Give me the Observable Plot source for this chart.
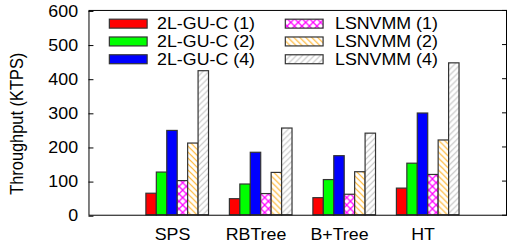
<!DOCTYPE html>
<html><head><meta charset="utf-8">
<script src="https://cdn.jsdelivr.net/npm/d3@7"></script>
<script src="https://cdn.jsdelivr.net/npm/@observablehq/plot@0.6"></script>
<style>
html,body{margin:0;padding:0;background:#fff;overflow:hidden}
#wrap{width:507px;height:244px;overflow:hidden;position:relative}
</style></head><body>
<svg width="0" height="0" style="position:absolute">
<defs>
<pattern id="pPink" patternUnits="userSpaceOnUse" width="7.5" height="7.5">
 <rect width="7.5" height="7.5" fill="#fff"/>
 <path d="M0,0L7.5,7.5M0,7.5L7.5,0" stroke="#ff00ff" stroke-width="1.3"/>
</pattern>
<pattern id="pOrange" patternUnits="userSpaceOnUse" width="6" height="6">
 <rect width="6" height="6" fill="#fff"/>
 <path d="M0,0L6,6M-1,5L1,7M5,-1L7,1" stroke="#ffb52e" stroke-width="1.2"/>
</pattern>
<pattern id="pGray" patternUnits="userSpaceOnUse" width="6" height="6">
 <rect width="6" height="6" fill="#fff"/>
 <path d="M0,6L6,0M-1,1L1,-1M5,7L7,5" stroke="#c4c4c4" stroke-width="1.2"/>
</pattern>
</defs></svg>
<div id="wrap"></div>
<script>
const categories = ["SPS", "RBTree", "B+Tree", "HT"];
const seriesNames = ["2L-GU-C (1)", "2L-GU-C (2)", "2L-GU-C (4)", "LSNVMM (1)", "LSNVMM (2)", "LSNVMM (4)"];
const gu1 = [63, 47, 50, 78];
const gu2 = [125, 90, 103, 151];
const gu4 = [247, 183, 173, 298];
const ls1 = [100, 62, 60, 118];
const ls2 = [210, 124, 126, 219];
const ls4 = [422, 254, 239, 445];
const yTicks = [0, 100, 200, 300, 400, 500, 600];
const yLabel = "Throughput (KTPS)";

const seriesValues = [gu1, gu2, gu4, ls1, ls2, ls4];
const seriesFills = ["#ff0000", "#00ff00", "#0000ff", "url(#pPink)", "url(#pOrange)", "url(#pGray)"];
const w = 0.125;
const rows = categories.flatMap((c, i) => seriesNames.map((s, j) => ({cat: i, s: j, v: seriesValues[j][i]})));

const chart = Plot.plot({
  width: 510, height: 244,
  marginLeft: 89, marginRight: 1, marginTop: 10, marginBottom: 28,
  style: {fontFamily: "'Liberation Sans', Arial, sans-serif", fontSize: "16px", color: "#000", background: "#fff", overflow: "visible"},
  x: {domain: [-1, 4], axis: null},
  y: {domain: [0, 600], axis: null},
  color: {type: "identity"},
  marks: [
    Plot.rect(rows, {x1: d => d.cat + (d.s - 2.5) * w, x2: d => d.cat + (d.s - 1.5) * w, y1: 0, y2: "v",
      fill: d => seriesFills[d.s], stroke: "#333", strokeWidth: 1.2}),
    Plot.axisX(categories.map((c, i) => i), {tickSize: 0, tickPadding: 14, tickFormat: i => categories[i], label: null, fontSize: 16}),
    Plot.axisY(yTicks, {anchor: "left", tickSize: -5, tickPadding: 16, dy: 1, label: null, fontSize: 16, fontVariant: "normal"}),
    Plot.axisY(yTicks, {anchor: "right", tickSize: -5, tickFormat: () => "", label: null}),
    Plot.frame({stroke: "#000", strokeWidth: 1})
  ]
});
document.getElementById("wrap").appendChild(chart);

const svg = d3.select(chart);
svg.selectAll("text").filter(function () { return this.textContent === ""; }).remove();
svg.selectAll("text").attr("font-size", 16).style("font-size", "16px");
const lg = svg.append("g").attr("font-size", 16).attr("text-anchor", "start");
const swX = [110, 287], txX = [158, 337];
seriesNames.forEach((s, j) => {
  const col = Math.floor(j / 3), row = j % 3;
  const yc = 23.8 + row * 17.9;
  lg.append("rect").attr("x", swX[col]).attr("y", yc - 4.5).attr("width", 38).attr("height", 9)
    .attr("fill", seriesFills[j]).attr("stroke", "#333").attr("stroke-width", 1.2);
  lg.append("text").attr("x", txX[col]).attr("y", yc).attr("dy", "0.35em").attr("fill", "#000").text(s);
});
svg.selectAll("text").each(function () {
  const L = this.getComputedTextLength();
  this.setAttribute("textLength", L * 1.12);
  this.setAttribute("lengthAdjust", "spacingAndGlyphs");
});
svg.append("text").attr("transform", "translate(16.5,124.5) scale(1.12,1) rotate(-90)")
  .attr("text-anchor", "middle").attr("dy", "0.35em").attr("font-size", 16.5).attr("fill", "#000").text(yLabel);
</script>
</body></html>
